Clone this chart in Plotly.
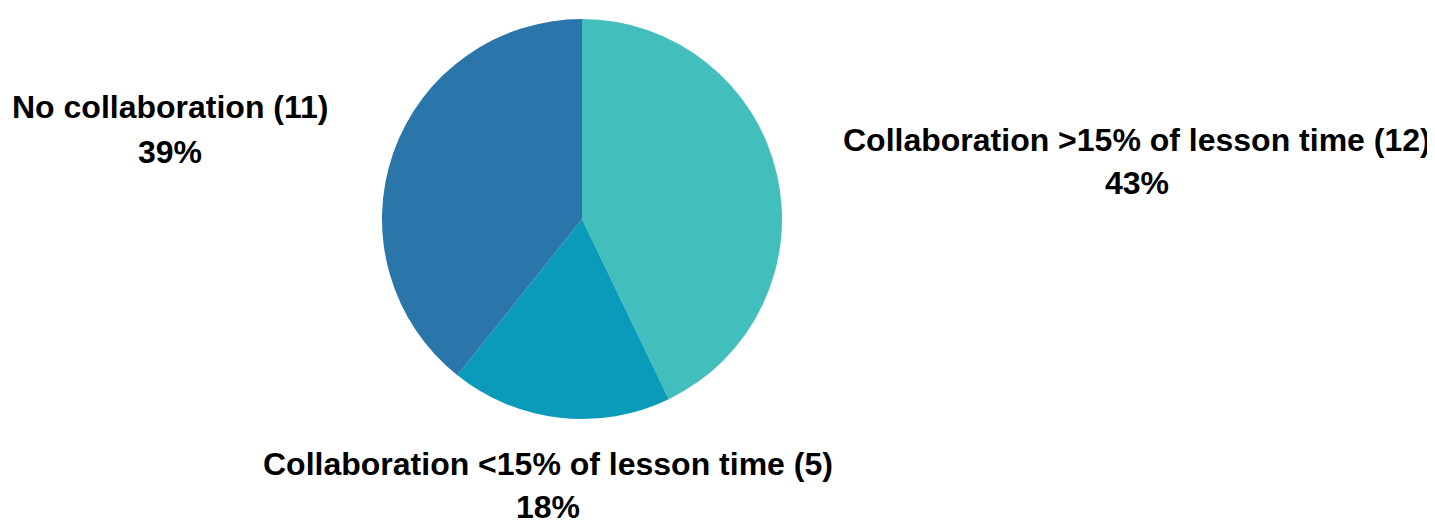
import plotly.graph_objects as go

labels = ["Collaboration >15% of lesson time", "Collaboration <15% of lesson time", "No collaboration"]
counts = [12, 5, 11]
colors = ["#42BFBC", "#0A9ABA", "#2A75AA"]

OFF = 8  # page body margin
W, H = 1435 - OFF, 520 - OFF
total = sum(counts)

def fx(px):
    return (px - OFF) / W

def fy(py):
    return 1 - (py - OFF) / H

fig = go.Figure(go.Pie(
    labels=labels,
    values=counts,
    sort=False,
    direction="clockwise",
    rotation=0,
    marker=dict(colors=colors, line=dict(width=0)),
    textinfo="none",
    hoverinfo="label+value+percent",
    showlegend=False,
    domain=dict(x=[fx(382), fx(782)], y=[fy(419), fy(19)]),
))

# label positions in pixels (centre x, y of name line, y of percent line)
label_pos = [(1137, 140, 183), (548, 464, 507), (170, 107, 152)]
font = dict(family="Liberation Sans, Arial, sans-serif", size=32, color="#000000")
for lab, c, (px, py1, py2) in zip(labels, counts, label_pos):
    pct = round(100 * c / total)
    fig.add_annotation(x=fx(px), y=fy(py1), xref="paper", yref="paper",
                       text=f"<b>{lab} ({c})</b>", showarrow=False,
                       xanchor="center", yanchor="middle", font=font)
    fig.add_annotation(x=fx(px), y=fy(py2), xref="paper", yref="paper",
                       text=f"<b>{pct}%</b>", showarrow=False,
                       xanchor="center", yanchor="middle", font=font)

fig.update_layout(
    width=W, height=H,
    margin=dict(l=0, r=0, t=0, b=0),
    paper_bgcolor="white", plot_bgcolor="white",
)
fig.write_html("out.html")
